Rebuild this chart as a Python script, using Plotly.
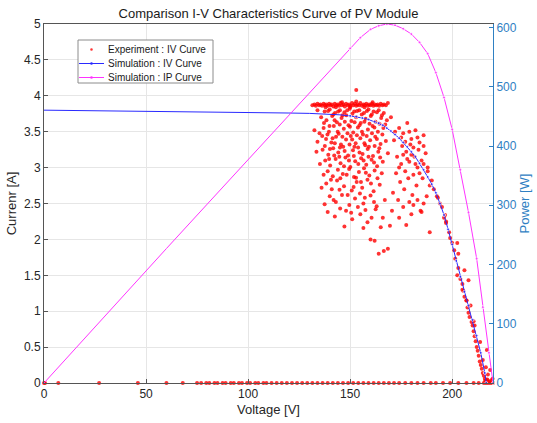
import plotly.graph_objects as go

# ---------------- Simulation : IV curve ----------------
sim_v = [0, 20, 40, 60, 80, 100, 120, 130, 140, 145, 150, 153, 156, 159, 162, 164,
         166, 168, 170, 172, 174, 176, 178, 180, 182, 184, 186, 188, 190, 192, 194,
         196, 198, 200, 202, 204, 206, 208, 210, 212, 214, 216, 216.7]
sim_i = [3.80, 3.795, 3.79, 3.785, 3.78, 3.77, 3.76, 3.755, 3.745, 3.735, 3.72, 3.71,
         3.69, 3.67, 3.64, 3.62, 3.59, 3.55, 3.51, 3.46, 3.41, 3.35, 3.29, 3.22, 3.15,
         3.06, 2.97, 2.87, 2.77, 2.65, 2.50, 2.34, 2.14, 1.93, 1.70, 1.48, 1.27, 1.08,
         0.88, 0.66, 0.42, 0.14, 0.0]

# ---------------- Simulation : IP curve ----------------
pow_v = [0, 20, 40, 60, 80, 100, 120, 140, 150, 155, 160, 164, 168, 172, 176, 180,
         184, 188, 192, 196, 200, 204, 208, 212, 215, 218, 220]
pow_p = [0, 76, 152, 227, 302, 377, 452, 527, 565, 583, 597, 603, 606, 604, 598, 589,
         575, 556, 524, 482, 428, 360, 288, 210, 128, 51, 0]

# ---------------- Experiment : IV curve ----------------
zero_v = [0, 0.5, 7, 27, 46, 60, 68, 75, 77, 79.5, 81, 83.5, 85, 87.5, 89, 91.5, 93,
          95.5, 97, 99.5, 101, 103.5, 105, 107.5, 109, 111.5, 114, 116.5, 119, 121.5,
          124, 126.5, 129, 131.5, 134, 136.5, 139, 141.5, 144, 146.5, 149, 151.5, 154,
          156.5, 159, 161.5, 164, 166.5, 169, 171.5, 174, 177, 180, 183, 186, 189.5,
          192, 195.5, 199, 203, 207, 210.5, 213, 215.5, 216.5, 217.5, 218.5, 219.5, 220]
zero_i = [0.0] * len(zero_v)

band_v = [131.5, 132.5, 133.2, 134, 134.8, 135.5, 136.2, 137, 137.6, 138.3, 139, 139.7,
          140.4, 141, 141.8, 142.5, 143.2, 144, 144.6, 145.3, 146, 146.7, 147.4, 148,
          148.8, 149.5, 150.2, 150.9, 151.6, 152.3, 153, 153.7, 154.4, 155, 155.8, 156.5,
          157.2, 157.9, 158.6, 159.3, 160, 160.7, 161.4, 162.1, 162.8, 163.5, 164.2, 165,
          165.8, 166.6, 167.5, 168.5, 143, 150, 157, 138, 161, 146, 153, 153]
band_i = [3.87, 3.88, 3.86, 3.89, 3.87, 3.88, 3.86, 3.89, 3.87, 3.88, 3.86, 3.89,
          3.87, 3.88, 3.85, 3.89, 3.87, 3.88, 3.86, 3.90, 3.87, 3.88, 3.85, 3.89,
          3.87, 3.88, 3.86, 3.90, 3.87, 3.89, 3.86, 3.88, 3.87, 3.90, 3.86, 3.88,
          3.87, 3.89, 3.86, 3.88, 3.87, 3.89, 3.86, 3.88, 3.87, 3.88, 3.86, 3.89,
          3.87, 3.88, 3.87, 3.90, 3.84, 3.84, 3.84, 3.84, 3.91, 3.91, 3.92, 4.08]

cloud_v = [134, 137.5, 140, 142.6, 145, 147.2, 149.8, 152, 154.5, 156.8, 159, 161.5, 164, 166.5,
           135.8, 138.4, 141.2, 143.5, 145.8, 148.1, 150.6, 152.9, 155.2, 157.6, 160.1, 162.4, 165.2, 168, 170,
           137, 139.6, 142, 144.4, 146.9, 149.2, 151.5, 153.8, 156.3, 158.7, 161, 163.6, 166.3, 132.5, 135,
           138.2, 140.8, 143.1, 145.5, 148, 150.3, 152.7, 155, 157.4, 159.8, 162.3, 164.9, 167.5, 134,
           136.5, 139.3, 141.7, 144.2, 146.6, 149, 151.4, 153.9, 156.1, 158.6, 161.2, 163.8, 168.5, 133.5,
           137.8, 140.2, 142.9, 145.3, 147.7, 150.1, 152.5, 155.4, 157.9, 160.5, 163.2, 166, 135.2,
           139, 141.5, 144, 146.4, 149.5, 151.9, 154.3, 156.8, 159.4, 162, 137, 165.5,
           138.3, 141, 143.6, 147, 150.8, 153.2, 155.9, 158.5, 161.5, 164.5, 136,
           140, 143, 146, 149.6, 152.4, 156.5, 160, 163, 167, 137.5,
           139, 142.5, 148, 151, 155, 158.5, 162.5, 166, 169.5, 165,
           160, 162, 168.5, 166.5, 164]
cloud_i = [3.80, 3.78, 3.81, 3.76, 3.80, 3.77, 3.82, 3.78, 3.80, 3.76, 3.81, 3.78, 3.80, 3.76,
           3.70, 3.66, 3.72, 3.63, 3.69, 3.73, 3.65, 3.70, 3.62, 3.68, 3.72, 3.64, 3.69, 3.66, 3.70,
           3.55, 3.50, 3.58, 3.47, 3.54, 3.59, 3.49, 3.56, 3.46, 3.53, 3.58, 3.50, 3.55, 3.52, 3.48,
           3.40, 3.35, 3.43, 3.32, 3.39, 3.44, 3.34, 3.41, 3.31, 3.38, 3.43, 3.33, 3.37, 3.36,
           3.25, 3.18, 3.27, 3.21, 3.29, 3.17, 3.24, 3.28, 3.19, 3.26, 3.16, 3.22, 3.20, 3.22,
           3.10, 3.03, 3.12, 3.06, 3.14, 3.01, 3.09, 3.13, 3.04, 3.11, 3.02, 3.08, 3.05,
           2.95, 2.88, 2.97, 2.91, 2.98, 2.87, 2.94, 2.99, 2.89, 2.96, 2.90, 2.92,
           2.78, 2.70, 2.82, 2.74, 2.68, 2.80, 2.72, 2.83, 2.67, 2.76, 2.72,
           2.60, 2.52, 2.62, 2.48, 2.57, 2.50, 2.61, 2.46, 2.55, 2.49,
           2.38, 2.32, 2.40, 2.28, 2.35, 2.24, 2.42, 2.30, 2.19, 2.17,
           2.00, 1.98, 1.87, 1.84, 1.80]

cloud2_v = [139.2, 141.8, 144.1, 146.3, 148.6, 151.1, 153.4, 155.7, 158.2, 160.6, 163.1, 165.6,
            137.2, 139.9, 142.4, 144.9, 147.4, 149.9, 152.2, 154.6, 157, 159.5, 161.9, 164.4, 167.2,
            136.3, 138.9, 141.4, 143.9, 146.2, 148.7, 151, 153.3, 155.8, 158.1, 160.7, 163.1, 165.8,
            137.6, 140.1, 142.5, 145, 147.3, 149.7, 152.1, 154.6, 157, 159.2, 162, 164.3,
            139.7, 142.2, 144.7, 147, 149.4, 151.8, 154, 156.6, 159, 161.7, 164.7,
            140.6, 145.2, 148.3, 152.9, 155.3, 157.7, 160.2, 163.4,
            144.8, 148.8, 151.7, 154.8, 157.2, 161.7, 141.9,
            145.1, 150.5, 153.8, 157.5, 160.5, 147.2, 156.5]
cloud2_i = [3.79, 3.74, 3.78, 3.73, 3.80, 3.75, 3.79, 3.74, 3.79, 3.74, 3.77, 3.73,
            3.62, 3.58, 3.66, 3.60, 3.64, 3.57, 3.63, 3.59, 3.64, 3.61, 3.56, 3.61, 3.60,
            3.44, 3.46, 3.41, 3.50, 3.43, 3.48, 3.39, 3.45, 3.50, 3.44, 3.48, 3.40, 3.46,
            3.30, 3.26, 3.34, 3.28, 3.23, 3.32, 3.29, 3.21, 3.34, 3.29, 3.30, 3.27,
            3.12, 3.17, 3.15, 3.02, 3.10, 3.16, 3.05, 3.10, 3.15, 3.07, 3.14,
            2.83, 2.85, 2.90, 2.86, 2.80, 2.93, 2.78, 2.85,
            2.69, 2.62, 2.73, 2.64, 2.58, 2.52, 2.55,
            2.43, 2.37, 2.45, 2.41, 2.30, 2.18, 2.16]

right_v = [174, 176, 178, 180, 182, 184, 186, 175.5, 177.5, 179.5, 181.5, 183.5, 185, 187,
           173, 175, 177, 179, 181, 183, 185.5, 172.5, 174.5, 176.5, 178.5, 180.5, 182.5,
           171, 173.5, 176, 179, 171.5, 172, 188, 189, 170.5, 174, 177.5, 180, 184.5, 186,
           185, 193, 196.5, 197, 189,
           175, 177, 179, 181, 183, 178, 180, 182, 176, 174, 184, 186, 187.5, 183, 181]
right_i = [3.55, 3.48, 3.62, 3.40, 3.52, 3.35, 3.45, 3.30, 3.22, 3.32, 3.15, 3.25, 3.10, 3.20,
           3.15, 3.05, 2.95, 3.08, 2.90, 3.00, 2.85, 2.92, 2.80, 2.70, 2.85, 2.62, 2.75,
           2.65, 2.55, 2.45, 2.52, 3.38, 3.50, 3.00, 2.75, 2.40, 2.30, 2.20, 2.35, 2.40, 2.50,
           2.38, 2.58, 2.34, 2.23, 2.10,
           3.42, 3.36, 3.50, 3.28, 3.42, 3.12, 3.18, 3.05, 3.18, 3.00, 2.92, 3.30, 2.60, 2.55, 2.48]

fall_v = [186, 188, 190, 191, 192.5, 194, 195, 196, 197, 198.5, 199, 200, 201, 201.5,
          203, 202.5, 204, 205, 205.5, 206, 207, 207.5, 208, 208.5, 209.5, 210, 210.5,
          211, 211.5, 212, 212.5, 213, 213.5, 214, 214.5, 215, 215.5, 216, 217, 217.5,
          216.5, 202.5, 203, 206, 208, 205, 207, 209, 211, 210.5, 213.7, 215, 218.6, 217,
          216.2, 217.2, 218.2, 219.2, 219.8]
fall_i = [3.05, 2.95, 2.82, 2.70, 2.60, 2.50, 2.45, 2.30, 2.25, 2.10, 2.02, 1.95, 1.85, 1.73,
          1.60, 1.50, 1.45, 1.38, 1.28, 1.20, 1.15, 1.05, 0.98, 0.92, 0.85, 0.80, 0.72,
          0.65, 0.58, 0.50, 0.45, 0.38, 0.30, 0.25, 0.20, 0.14, 0.10, 0.06, 0.04, 0.12,
          0.22, 1.95, 1.80, 1.57, 1.43, 1.30, 1.15, 1.08, 0.80, 0.86, 0.57, 0.32, 0.18, 0.46,
          0.03, 0.05, 0.02, 0.04, 0.06]

exp_v = zero_v + band_v + cloud_v + cloud2_v + right_v + fall_v
exp_i = zero_i + band_i + cloud_i + cloud2_i + right_i + fall_i

legend_labels = ["Experiment : IV Curve", "Simulation : IV Curve", "Simulation : IP Curve"]

FONT = "Arial, Liberation Sans, sans-serif"
BLUE_AX = "#2f80c3"
RED = "rgba(255,0,0,0.8)"
BLUE = "#2a2aff"
MAG = "#ff33ff"

# show dots only where the curves bend (as in the picture)
sim_msize = [0 if v < 150 else 3 for v in sim_v]
pow_msize = [0 if v < 145 else 3 for v in pow_v]

fig = go.Figure()
fig.add_trace(go.Scatter(
    x=exp_v, y=exp_i, mode="markers", name=legend_labels[0],
    marker=dict(color=RED, size=4, symbol="circle", line=dict(width=0)),
    cliponaxis=False))
fig.add_trace(go.Scatter(
    x=sim_v, y=sim_i, mode="lines+markers", name=legend_labels[1],
    line=dict(color=BLUE, width=1), marker=dict(color=BLUE, size=sim_msize)))
fig.add_trace(go.Scatter(
    x=pow_v, y=pow_p, mode="lines+markers", name=legend_labels[2], yaxis="y2",
    line=dict(color=MAG, width=1), marker=dict(color=MAG, size=pow_msize),
    cliponaxis=False))

# ---- hand-made legend box (compact, like the original) ----
W, H, L, B = 449.0, 359.0, 44.0, 40.0
def px(xp):
    return (xp - L) / W
def py(yp):
    return (383.0 - yp) / H

shapes = [dict(type="rect", xref="paper", yref="paper",
               x0=px(78), x1=px(213), y0=py(83), y1=py(40),
               line=dict(color="#8c8c8c", width=1), fillcolor="white", layer="above")]
rows = [49.5, 63.5, 77.5]
colors = [RED, BLUE, MAG]
annotations = []
for k, (yy, c, lab) in enumerate(zip(rows, colors, legend_labels)):
    if k > 0:
        shapes.append(dict(type="line", xref="paper", yref="paper",
                           x0=px(79), x1=px(104), y0=py(yy), y1=py(yy),
                           line=dict(color=c, width=1), layer="above"))
    shapes.append(dict(type="circle", xref="paper", yref="paper",
                       xsizemode="pixel", ysizemode="pixel",
                       xanchor=px(91.5), yanchor=py(yy),
                       x0=-1.3, x1=1.3, y0=-1.3, y1=1.3,
                       fillcolor=c, line=dict(width=0), layer="above"))
    annotations.append(dict(text=lab, xref="paper", yref="paper",
                            x=px(106), y=py(yy), xanchor="left", yanchor="middle",
                            showarrow=False, font=dict(size=10, color="#1a1a1a")))

fig.update_layout(
    width=537, height=423,
    margin=dict(l=44, r=44, t=24, b=40, autoexpand=False),
    paper_bgcolor="white", plot_bgcolor="white",
    font=dict(family=FONT, size=12, color="#262626"),
    title=dict(text="Comparison I-V Characteristics Curve of PV Module",
               x=0.5, xanchor="center", y=1 - 13 / 423.0, yanchor="middle",
               font=dict(size=13, color="#1a1a1a")),
    showlegend=False,
    shapes=shapes, annotations=annotations,
    xaxis=dict(range=[0, 220], tickvals=[0, 50, 100, 150, 200], automargin=False,
               showgrid=True, gridcolor="#e6e6e6", gridwidth=1,
               showline=True, linecolor="#555555", linewidth=1, mirror=True,
               ticks="inside", ticklen=4, tickcolor="#555555",
               zeroline=False,
               title=dict(text="Voltage [V]", font=dict(size=13), standoff=4)),
    yaxis=dict(range=[0, 5], tickvals=[0, 0.5, 1, 1.5, 2, 2.5, 3, 3.5, 4, 4.5, 5],
               ticktext=["0", "0.5", "1", "1.5", "2", "2.5", "3", "3.5", "4", "4.5", "5"],
               automargin=False,
               showgrid=True, gridcolor="#e6e6e6", gridwidth=1,
               showline=True, linecolor="#555555", linewidth=1,
               ticks="inside", ticklen=4, tickcolor="#555555",
               zeroline=False,
               title=dict(text="Currenr [A]", font=dict(size=13), standoff=4)),
    yaxis2=dict(range=[0, 606], tickvals=[0, 100, 200, 300, 400, 500, 600],
                overlaying="y", side="right", showgrid=False, zeroline=False,
                automargin=False,
                showline=True, linecolor=BLUE_AX, linewidth=1,
                ticks="inside", ticklen=4, tickcolor=BLUE_AX,
                tickfont=dict(color=BLUE_AX, size=12),
                title=dict(text="Power [W]", font=dict(size=13, color=BLUE_AX), standoff=4)),
)

fig.write_html("out.html",
               config={"displayModeBar": False},
               post_script="document.body.style.margin='0px';document.body.style.padding='0px';")
